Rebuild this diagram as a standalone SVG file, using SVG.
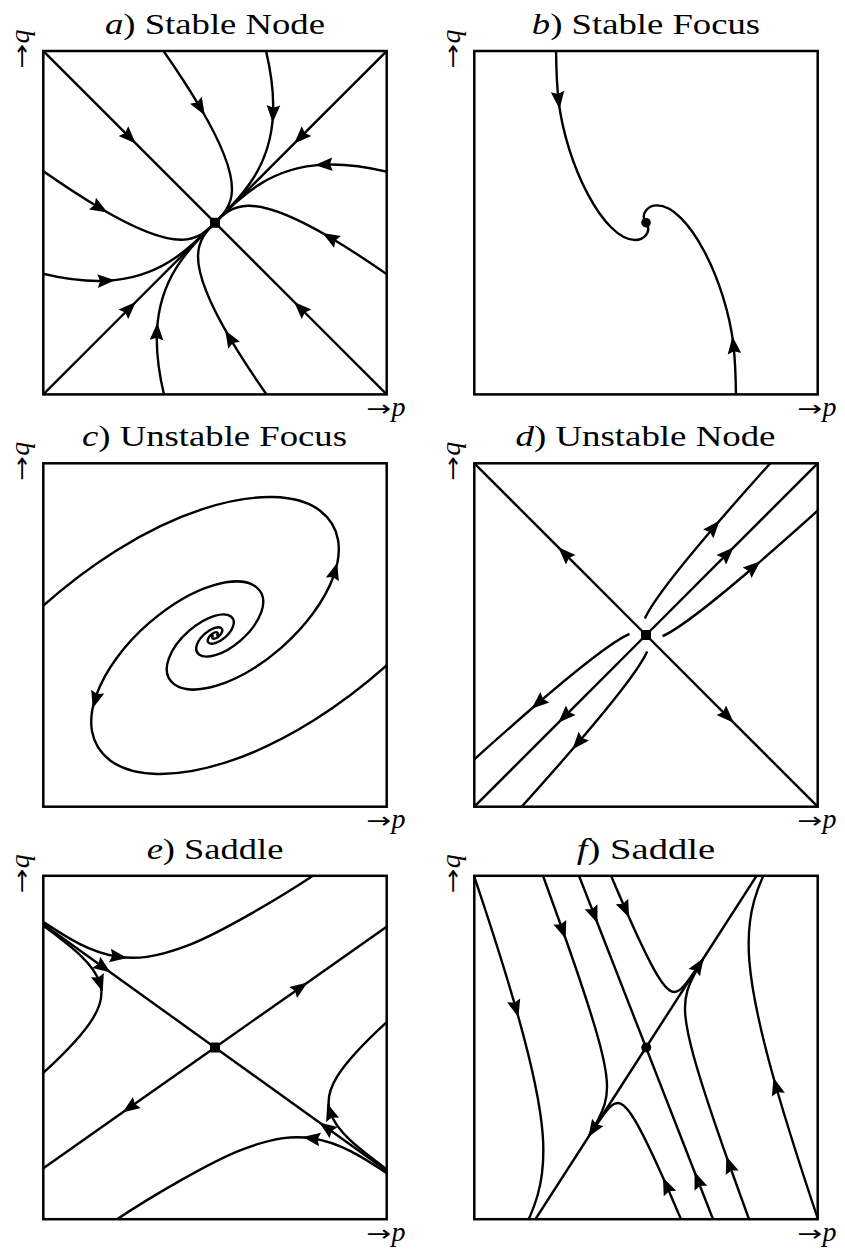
<svg xmlns="http://www.w3.org/2000/svg" width="845" height="1249" viewBox="0 0 845 1249">
<defs>
<style>
.bx{fill:none;stroke:#000;stroke-width:2.5}
.ln{fill:none;stroke:#000;stroke-width:2.4}
.ar{fill:none;stroke:#000;stroke-width:2.4;marker-end:url(#ah)}
.sp{fill:none;stroke:#000;stroke-width:2.4;vector-effect:non-scaling-stroke}
.ttl{font-family:"Liberation Serif","Times New Roman",serif;font-size:29px;text-anchor:middle}
.ax{font-family:"Liberation Serif","Times New Roman",serif;font-size:28px}
.arw{font-family:"DejaVu Sans",sans-serif;font-size:22px;font-style:normal}
.dot{fill:#000}
</style>
<path id="head" d="M9,0 L-8.5,-6.8 L-6,0 L-8.5,6.8 Z" fill="#000"/>
<marker id="ah" markerUnits="userSpaceOnUse" viewBox="-10 -10 20 20" markerWidth="20" markerHeight="20" refX="0" refY="0" orient="auto"><use href="#head"/></marker>
<clipPath id="ca"><rect x="43.3" y="51" width="343.4" height="343.4"/></clipPath>
<clipPath id="cb"><rect x="474.3" y="51" width="343.4" height="343.4"/></clipPath>
<clipPath id="cc"><rect x="43.3" y="463.3" width="343.4" height="343.4"/></clipPath>
<clipPath id="cd"><rect x="474.3" y="463.3" width="343.4" height="343.4"/></clipPath>
<clipPath id="ce"><rect x="43.3" y="875.8" width="343.4" height="343.4"/></clipPath>
<clipPath id="cf"><rect x="474.3" y="875.8" width="343.4" height="343.4"/></clipPath>
</defs>
<rect width="845" height="1249" fill="#fff"/>

<!-- a) Stable Node -->
<g id="panel-a">
<text class="ttl" x="215" y="33.5" textLength="220" lengthAdjust="spacingAndGlyphs"><tspan font-style="italic">a</tspan>) Stable Node</text>
<g clip-path="url(#ca)"><g transform="translate(215,222.7) rotate(-45)">
<path class="ar" d="M0,-250 L0,-121"/><path class="ln" d="M0,-121 L0,121"/><path class="ar" d="M0,250 L0,121"/>
<path class="ar" d="M250,0 L121,0"/><path class="ln" d="M121,0 L-121,0"/><path class="ar" d="M-250,0 L-121,0"/>
<g id="aq">
<path class="ar" d="M87.55,-172.4 C82.03,-139.8 76.5,-113.3 71.0,-91.9"/>
<path class="ln" d="M71.0,-91.9 C47.3,0 23.7,0 0,0"/>
<path class="ar" d="M162.2,-93.2 C147.5,-67.9 132.8,-49.4 118.1,-36.0"/>
<path class="ln" d="M118.1,-36.0 C78.75,0 39.4,0 0,0"/>
</g>
<use href="#aq" transform="scale(1,-1)"/>
<use href="#aq" transform="scale(-1,1)"/>
<use href="#aq" transform="scale(-1,-1)"/>
</g></g>
<rect class="bx" x="43.3" y="51" width="343.4" height="343.4"/>
<rect class="dot" x="210" y="217.7" width="10" height="10" rx="1.5"/>
<text class="ax" transform="translate(28.5,68.5) rotate(-90)"><tspan class="arw" textLength="25" lengthAdjust="spacingAndGlyphs">→</tspan><tspan font-style="italic">q</tspan></text>
<text class="ax" x="366.5" y="415.5"><tspan class="arw" textLength="25" lengthAdjust="spacingAndGlyphs">→</tspan><tspan font-style="italic">p</tspan></text>
</g>

<!-- b) Stable Focus -->
<g id="panel-b">
<text class="ttl" x="646" y="33.5" textLength="228.3" lengthAdjust="spacingAndGlyphs"><tspan font-style="italic">b</tspan>) Stable Focus</text>
<g clip-path="url(#cb)">
<path class="ar" d="M556,48 C556.2,66 556.7,84 558.5,100"/>
<path class="ln" d="M558.5,100 C566,165 604,240 635,240 C643,240 652,233 646.5,222.5"/>
<path class="ar" d="M736,397.4 C735.8,379.4 735.3,361.4 733.5,345.4"/>
<path class="ln" d="M733.5,345.4 C726,280.4 688,205.4 657,205.4 C649,205.4 640,212.4 645.5,222.9"/>
</g>
<rect class="bx" x="474.3" y="51" width="343.4" height="343.4"/>
<circle class="dot" cx="646" cy="222.7" r="4.8"/>
<text class="ax" transform="translate(459.5,68.5) rotate(-90)"><tspan class="arw" textLength="25" lengthAdjust="spacingAndGlyphs">→</tspan><tspan font-style="italic">q</tspan></text>
<text class="ax" x="797.5" y="415.5"><tspan class="arw" textLength="25" lengthAdjust="spacingAndGlyphs">→</tspan><tspan font-style="italic">p</tspan></text>
</g>

<!-- c) Unstable Focus -->
<g id="panel-c">
<text class="ttl" x="214.5" y="445.5" textLength="265" lengthAdjust="spacingAndGlyphs"><tspan font-style="italic">c</tspan>) Unstable Focus</text>
<g clip-path="url(#cc)">
<path id="carm" class="sp" transform="matrix(122.79,-92.53,-46.26,-61.39,215,635.5)" d="M-0.9478,1.6208 C0.1809,1.8942 0.9376,1.1702 1.0342,0.4733 C1.1242,-0.1763 0.7009,-0.5894 0.2954,-0.6456 C-0.1101,-0.7018 -0.3679,-0.4375 -0.4030,-0.1844 C-0.4381,0.0687 -0.2732,0.2297 -0.1151,0.2516 C0.0429,0.2735 0.1434,0.1705 0.1570,0.0719 C0.1707,-0.0268 0.1064,-0.0895 0.0449,-0.0980 C-0.0167,-0.1066 -0.0559,-0.0664 -0.0612,-0.0280 C-0.0665,0.0104 -0.0415,0.0349 -0.0175,0.0382 C0.0065,0.0415 0.0218,0.0259 0.0238,0.0109 C0.0259,-0.0041 0.0162,-0.0136 0.0068,-0.0149"/>
<use href="#carm" transform="rotate(180,215,635.5)"/>
<use href="#head" transform="translate(334.7,571.3) rotate(-73.7)"/>
<use href="#head" transform="translate(95.3,699.7) rotate(106.3)"/>
</g>
<rect class="bx" x="43.3" y="463.3" width="343.4" height="343.4"/>
<text class="ax" transform="translate(28.5,480.8) rotate(-90)"><tspan class="arw" textLength="25" lengthAdjust="spacingAndGlyphs">→</tspan><tspan font-style="italic">q</tspan></text>
<text class="ax" x="366.5" y="828"><tspan class="arw" textLength="25" lengthAdjust="spacingAndGlyphs">→</tspan><tspan font-style="italic">p</tspan></text>
</g>

<!-- d) Unstable Node -->
<g id="panel-d">
<text class="ttl" x="645.5" y="445.5" textLength="260" lengthAdjust="spacingAndGlyphs"><tspan font-style="italic">d</tspan>) Unstable Node</text>
<g clip-path="url(#cd)"><g transform="translate(646,635) rotate(-45)">
<path class="ar" d="M0,0 L0,-115"/><path class="ln" d="M0,-115 L0,-250"/>
<path class="ar" d="M0,0 L0,115"/><path class="ln" d="M0,115 L0,250"/>
<path class="ar" d="M0,0 L115,0"/><path class="ln" d="M115,0 L250,0"/>
<path class="ar" d="M0,0 L-115,0"/><path class="ln" d="M-115,0 L-250,0"/>
<g id="dq">
<path class="ar" d="M10.86,12.5 C24.46,17.72 55.05,22.93 124.0,28.15"/>
<path class="ln" d="M124.0,28.15 C149.8,30.1 180.9,32.05 218.5,34"/>
</g>
<use href="#dq" transform="scale(1,-1)"/>
<use href="#dq" transform="scale(-1,1)"/>
<use href="#dq" transform="scale(-1,-1)"/>
</g></g>
<rect class="bx" x="474.3" y="463.3" width="343.4" height="343.4"/>
<rect class="dot" x="641" y="630" width="10" height="10" rx="1.5"/>
<text class="ax" transform="translate(459.5,480.8) rotate(-90)"><tspan class="arw" textLength="25" lengthAdjust="spacingAndGlyphs">→</tspan><tspan font-style="italic">q</tspan></text>
<text class="ax" x="797.5" y="828"><tspan class="arw" textLength="25" lengthAdjust="spacingAndGlyphs">→</tspan><tspan font-style="italic">p</tspan></text>
</g>

<!-- e) Saddle -->
<g id="panel-e">
<text class="ttl" x="215" y="858.5" textLength="136.7" lengthAdjust="spacingAndGlyphs"><tspan font-style="italic">e</tspan>) Saddle</text>
<g clip-path="url(#ce)">
<path class="ar" d="M36.23,919.24 L103.27,967.34"/><path class="ln" d="M103.27,967.34 L326.73,1127.66"/><path class="ar" d="M393.77,1175.76 L326.73,1127.66"/>
<path class="ar" d="M215,1047.5 L300.07,987.65"/><path class="ln" d="M300.07,987.65 L394.96,920.89"/>
<path class="ar" d="M215,1047.5 L129.93,1107.35"/><path class="ln" d="M129.93,1107.35 L35.04,1174.11"/>
<path class="ar" d="M39.61,919.52 C67.87,938.14 89.68,952.57 118.35,956.73"/>
<path class="ln" d="M118.35,956.73 C135.21,959.18 154.08,958.32 188.0,945.36 C218,933.9 280,898.2 320,871"/>
<path class="ar" d="M37.27,921.16 C68.91,944.93 93.06,961.57 99.98,983.28"/>
<path class="ln" d="M99.98,983.28 C102.88,992.4 102.53,1002.54 93.07,1018.05 C84.86,1031.5 70.18,1048.76 37.61,1077.97"/>
<path class="ar" d="M390.39,1175.48 C362.13,1156.86 340.32,1142.43 311.65,1138.27"/>
<path class="ln" d="M311.65,1138.27 C294.79,1135.82 275.92,1136.68 242.0,1149.64 C212,1161.1 150,1196.8 110,1224"/>
<path class="ar" d="M392.73,1173.84 C361.09,1150.07 336.94,1133.43 330.02,1111.72"/>
<path class="ln" d="M330.02,1111.72 C327.12,1102.6 327.47,1092.46 336.93,1076.95 C345.14,1063.5 359.82,1046.24 392.39,1017.03"/>
</g>
<rect class="bx" x="43.3" y="875.8" width="343.4" height="343.4"/>
<rect class="dot" x="210" y="1042.5" width="10" height="10" rx="1.5"/>
<text class="ax" transform="translate(28.5,893.3) rotate(-90)"><tspan class="arw" textLength="25" lengthAdjust="spacingAndGlyphs">→</tspan><tspan font-style="italic">q</tspan></text>
<text class="ax" x="366.5" y="1240.5"><tspan class="arw" textLength="25" lengthAdjust="spacingAndGlyphs">→</tspan><tspan font-style="italic">p</tspan></text>
</g>

<!-- f) Saddle -->
<g id="panel-f">
<text class="ttl" x="646" y="858.5" textLength="138.3" lengthAdjust="spacingAndGlyphs"><tspan font-style="italic">f</tspan>) Saddle</text>
<g clip-path="url(#cf)">
<path class="ar" d="M576.93,870.5 L594.2,914.75"/><path class="ln" d="M594.2,914.75 L697.8,1180.25"/><path class="ar" d="M715.07,1224.5 L697.8,1180.25"/>
<path class="ar" d="M646,1047.5 L698.8,965.52"/><path class="ln" d="M698.8,965.52 L759.72,870.93"/>
<path class="ar" d="M646,1047.5 L593.2,1129.48"/><path class="ln" d="M593.2,1129.48 L532.28,1224.07"/>
<path class="ar" d="M472.15,870.3 C492.54,930.82 506.11,974.18 515.98,1008.54"/>
<path class="ln" d="M515.98,1008.54 C534.79,1074.16 540.64,1108.09 542.67,1134.04 C544.81,1161.5 542.16,1178.74 537.87,1194.24 C533.57,1209.73 527.45,1222.97 520.31,1236.6"/>
<path class="ar" d="M819.85,1224.7 C799.46,1164.18 785.89,1120.82 776.02,1086.46"/>
<path class="ln" d="M776.02,1086.46 C757.21,1020.84 751.36,986.91 749.33,960.96 C747.19,933.5 749.84,916.26 754.13,900.76 C758.43,885.27 764.55,872.03 771.69,858.4"/>
<path class="ar" d="M539.15,865.14 C548.49,890.68 556.16,911.95 562.64,930.24"/>
<path class="ln" d="M562.64,930.24 C583.42,988.83 592.73,1018.44 598.51,1039.54 C604.79,1062.47 606.53,1074.34 606.93,1083.55 C607.34,1092.77 606.25,1098.85 604.59,1104.39 C602.93,1109.93 600.66,1114.77 598.03,1119.76 C595.39,1124.74 592.37,1129.83 589.04,1135.28"/>
<path class="ar" d="M752.85,1229.86 C743.51,1204.32 735.84,1183.05 729.36,1164.76"/>
<path class="ln" d="M729.36,1164.76 C708.58,1106.17 699.27,1076.56 693.49,1055.46 C687.21,1032.53 685.47,1020.66 685.07,1011.45 C684.66,1002.23 685.75,996.15 687.41,990.61 C689.07,985.07 691.34,980.23 693.97,975.24 C696.61,970.26 699.63,965.17 702.96,959.72"/>
<path class="ar" d="M606.04,864.21 C613.67,882.3 620.0,897.0 625.43,909.34"/>
<path class="ln" d="M625.43,909.34 C642.23,947.55 650.88,964.47 657.31,975.19 C664.11,986.53 668.09,990.11 671.46,991.47 C674.83,992.84 677.47,991.68 680.07,989.63 C682.68,987.57 685.19,984.55 687.88,980.99 C690.55,977.42 693.38,973.31 696.46,968.71"/>
<path class="ar" d="M685.96,1230.79 C678.33,1212.7 672.0,1198.0 666.57,1185.66"/>
<path class="ln" d="M666.57,1185.66 C649.77,1147.45 641.12,1130.53 634.69,1119.81 C627.89,1108.47 623.91,1104.89 620.54,1103.53 C617.17,1102.16 614.53,1103.32 611.93,1105.37 C609.32,1107.43 606.81,1110.45 604.12,1114.01 C601.45,1117.58 598.62,1121.69 595.54,1126.29"/>
</g>
<rect class="bx" x="474.3" y="875.8" width="343.4" height="343.4"/>
<circle class="dot" cx="646.3" cy="1047.5" r="5"/>
<text class="ax" transform="translate(459.5,893.3) rotate(-90)"><tspan class="arw" textLength="25" lengthAdjust="spacingAndGlyphs">→</tspan><tspan font-style="italic">q</tspan></text>
<text class="ax" x="797.5" y="1240.5"><tspan class="arw" textLength="25" lengthAdjust="spacingAndGlyphs">→</tspan><tspan font-style="italic">p</tspan></text>
</g>
</svg>
